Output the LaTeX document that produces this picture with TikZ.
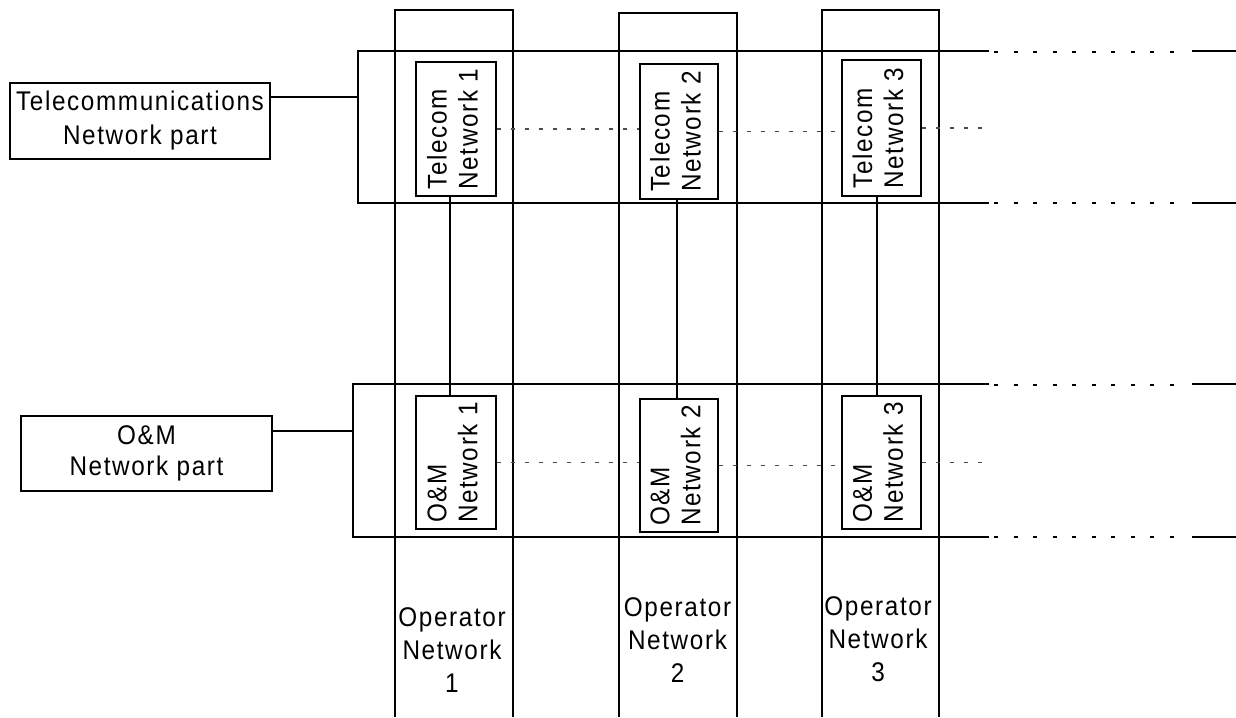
\documentclass[tikz,border=0pt]{standalone}
\usepackage{graphicx}
\usepackage{fontspec}
\setmainfont{Liberation Sans}[LetterSpace=6,FakeStretch=0.9]
\newcommand{\vlab}[2]{\rotatebox{90}{\vbox{\hbox{#1}\hbox{#2}}}\hspace*{7pt}}
\begin{document}
\begin{tikzpicture}[x=1pt,y=-1pt,
  line width=1.1pt,
  lbl/.style={font=\fontsize{27}{33}\selectfont, align=center, inner sep=0pt},
  box/.style={draw, inner sep=0pt, font=\fontsize{27}{31}\selectfont},
  partbox/.style={draw, inner sep=0pt, align=center},
  dotl/.style={draw=black!70, line width=1.3pt, dash pattern=on 4pt off 10pt},
  bandd/.style={line width=1.1pt, dash pattern=on 4pt off 15.5pt}]
\useasboundingbox (0,0) rectangle (1236,717);

% operator network columns (open at the bottom)
\draw (395,717) -- (395,10) -- (513,10) -- (513,717);
\draw (619,717) -- (619,13) -- (737,13) -- (737,717);
\draw (822,717) -- (822,10) -- (939,10) -- (939,717);

% telecom band
\draw (989,51) -- (358,51) -- (358,203) -- (989,203);
\draw[bandd] (994,52) -- (1180,52);
\draw[bandd] (994,203) -- (1180,203);
\draw (1192,51) -- (1236,51);
\draw (1192,203) -- (1236,203);

% O&M band
\draw (989,384) -- (353,384) -- (353,537) -- (989,537);
\draw[bandd] (994,385) -- (1180,385);
\draw[bandd] (994,537) -- (1180,537);
\draw (1192,384) -- (1236,384);
\draw (1192,537) -- (1236,537);

% telecom network boxes
\node[box, minimum width=80pt, minimum height=134pt] (tb1) at (456,129) {\vlab{Telecom}{Network 1}};
\node[box, minimum width=78pt, minimum height=135pt] (tb2) at (679,131.5) {\vlab{Telecom}{Network 2}};
\node[box, minimum width=79pt, minimum height=136pt] (tb3) at (881.5,128) {\vlab{Telecom}{Network 3}};

% O&M network boxes
\node[box, minimum width=80pt, minimum height=133pt] (ob1) at (456,462.5) {\vlab{O\&M}{Network 1}};
\node[box, minimum width=78pt, minimum height=133pt] (ob2) at (679,465.5) {\vlab{O\&M}{Network 2}};
\node[box, minimum width=79pt, minimum height=133pt] (ob3) at (881.5,462.5) {\vlab{O\&M}{Network 3}};

% part labels on the left
\node[partbox, minimum width=260pt, minimum height=76pt,
  font=\fontsize{27}{34}\selectfont] (tcp) at (140,121)
  {Telecommunications\\Network part};
\node[partbox, minimum width=251pt, minimum height=75pt,
  font=\fontsize{27}{31}\selectfont] (ocp) at (146.5,453.5)
  {O\&M\\Network part};

\coordinate (tl) at (358,97);
\coordinate (ol) at (353,431);
\draw (tcp.east |- tl) -- (tl);
\draw (ocp.east |- ol) -- (ol);

% vertical links telecom -> O&M
\coordinate (v1) at (450,0);
\coordinate (v2) at (677,0);
\coordinate (v3) at (877,0);
\draw (tb1.south -| v1) -- (ob1.north -| v1);
\draw (tb2.south -| v2) -- (ob2.north -| v2);
\draw (tb3.south -| v3) -- (ob3.north -| v3);

% dotted links
\coordinate (te) at (989,0);
\draw[dotl] (tb1.east) -- (tb1.east -| tb2.west);
\draw[dotl] (tb2.east) -- (tb2.east -| tb3.west);
\draw[dotl] (tb3.east) -- (tb3.east -| te);
\draw[dotl] (ob1.east) -- (ob1.east -| ob2.west);
\draw[dotl] (ob2.east) -- (ob2.east -| ob3.west);
\draw[dotl] (ob3.east) -- (ob3.east -| te);

% operator labels
\node[lbl] (op1) at (452,650.5) {Operator\\Network\\1};
\node[lbl] (op2) at (677.5,640.5) {Operator\\Network\\2};
\node[lbl] (op3) at (878,639.5) {Operator\\Network\\3};
\end{tikzpicture}
\end{document}
